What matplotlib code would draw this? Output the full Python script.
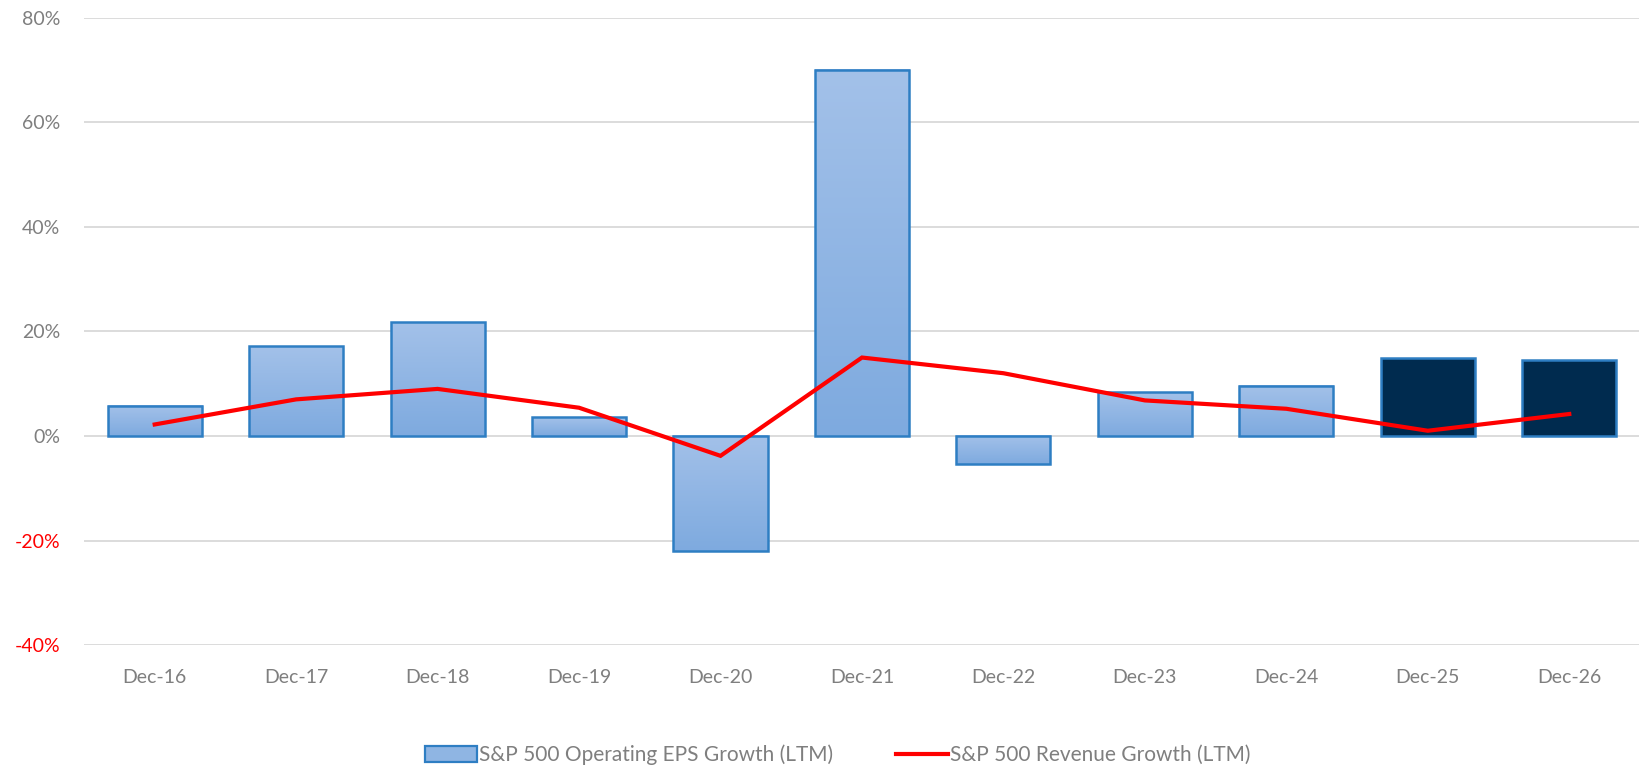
import matplotlib.pyplot as plt
import matplotlib.colors as mcolors
import numpy as np
from matplotlib.patches import Patch
from matplotlib.lines import Line2D

# Daten
labels = ['Dec-16', 'Dec-17', 'Dec-18', 'Dec-19', 'Dec-20', 'Dec-21',
          'Dec-22', 'Dec-23', 'Dec-24', 'Dec-25', 'Dec-26']
eps_growth = [5.8, 17.2, 21.8, 3.6, -22.0, 70.0, -5.4, 8.4, 9.6, 15.0, 14.6]
revenue_growth = [2.2, 7.0, 9.0, 5.4, -3.8, 15.0, 12.0, 6.8, 5.2, 1.0, 4.2]
is_estimate = [False] * 9 + [True, True]

plt.rcParams['font.family'] = ['Lato', 'DejaVu Sans']

fig = plt.figure(figsize=(16.4, 7.68), dpi=100)
ax = fig.add_axes([0.0512, 0.160, 0.9488, 0.817])

x = np.arange(len(labels))
width = 0.665

# Farbverlauf für die Balken (oben hell, unten dunkler)
grad_cmap = mcolors.LinearSegmentedColormap.from_list('g', ['#7eaadf', '#a3c1e9'])
gradient = np.linspace(0, 1, 256).reshape(-1, 1)

bars = ax.bar(x, eps_growth, width=width, zorder=2,
              color=['#002b4f' if e else 'none' for e in is_estimate],
              edgecolor='#2e7ec3', linewidth=1.8)

for bar, est in zip(bars, is_estimate):
    if est:
        continue
    x0 = bar.get_x()
    x1 = x0 + bar.get_width()
    y0 = min(bar.get_y(), bar.get_y() + bar.get_height())
    y1 = max(bar.get_y(), bar.get_y() + bar.get_height())
    ax.imshow(gradient, extent=(x0, x1, y0, y1), origin='lower', cmap=grad_cmap,
              aspect='auto', zorder=1.9, interpolation='bicubic')

ax.plot(x, revenue_growth, color='#ff0000', linewidth=3, zorder=3,
        solid_joinstyle='miter')

ax.set_xlim(-0.5, len(labels) - 0.5)
ax.set_ylim(-40, 80)
ax.set_yticks(np.arange(-40, 81, 20))
ax.set_yticklabels([f'{v}%' for v in range(-40, 81, 20)])
for lbl, v in zip(ax.get_yticklabels(), range(-40, 81, 20)):
    lbl.set_color('#ff0000' if v < 0 else '#7f7f7f')
ax.set_xticks(x)
ax.set_xticklabels(labels, color='#7f7f7f')
ax.tick_params(axis='y', length=0, pad=17, labelsize=14)
ax.tick_params(axis='x', length=0, pad=17, labelsize=14)

ax.grid(axis='y', color='#d9d9d9', linewidth=1.3, zorder=0)
ax.set_axisbelow(True)
for s in ax.spines.values():
    s.set_visible(False)

# Legende unten
handles = [Patch(facecolor='#8fb5e3', edgecolor='#2e7ec3', linewidth=1.6),
           Line2D([0], [0], color='#ff0000', linewidth=3)]
leg = fig.legend(handles, ['S&P 500 Operating EPS Growth (LTM)', 'S&P 500 Revenue Growth (LTM)'],
                 loc='center', bbox_to_anchor=(0.511, 0.017), ncol=2, frameon=False,
                 fontsize=15, handlelength=2.5, handleheight=0.75, handletextpad=0.1,
                 columnspacing=3.0)
for t in leg.get_texts():
    t.set_color('#7f7f7f')

fig.savefig('out.png', dpi=100)
